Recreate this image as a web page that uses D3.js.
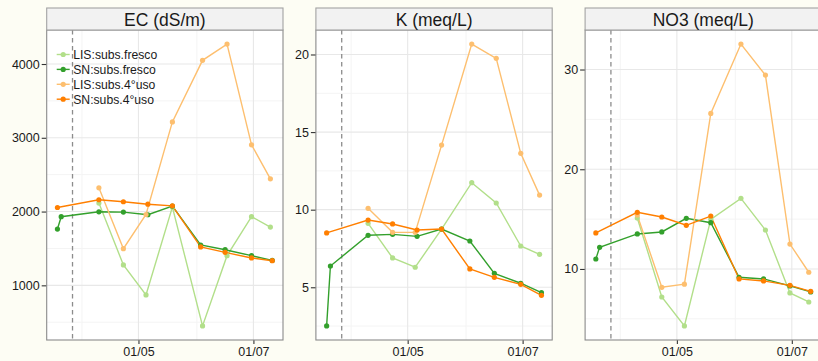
<!DOCTYPE html>
<html>
<head>
<meta charset="utf-8">
<script src="https://cdn.jsdelivr.net/npm/d3@7"></script>
<style>
  body { margin: 0; background: #fdfdf4; }
  text { font-family: "Liberation Sans", Arial, Helvetica, sans-serif; }
</style>
</head>
<body>
<div id="chart"></div>
<script>
// DATES (sample days)
const snFrescoDates = ["2014-03-19", "2014-03-21", "2014-04-10", "2014-04-23", "2014-05-06", "2014-05-19", "2014-06-03", "2014-06-16", "2014-06-30", "2014-07-11"];
const snUsoDates = ["2014-03-19", "2014-04-10", "2014-04-23", "2014-05-06", "2014-05-19", "2014-06-03", "2014-06-16", "2014-06-30", "2014-07-11"];
const lisDates = ["2014-04-10", "2014-04-23", "2014-05-05", "2014-05-19", "2014-06-04", "2014-06-17", "2014-06-30", "2014-07-10"];
const markerDate = "2014-03-27";

// SERIES
const seriesNames = ["LIS:subs.fresco", "SN:subs.fresco", "LIS:subs.4°uso", "SN:subs.4°uso"];
const seriesColors = ["#b2df8a", "#33a02c", "#fdbf6f", "#ff7f00"];

// PANELS
const panelTitles = ["EC (dS/m)", "K (meq/L)", "NO3 (meq/L)"];
const panelTicks = [[1000, 2000, 3000, 4000], [5, 10, 15, 20], [10, 20, 30]];

// EC values
const ecLisFresco = [2115, 1276, 870, 2060, 450, 1402, 1930, 1790];
const ecSnFresco = [1763, 1930, 1997, 1993, 1957, 2075, 1547, 1483, 1402, 1338];
const ecLisUso = [2322, 1497, 1960, 3215, 4050, 4270, 2904, 2444];
const ecSnUso = [2055, 2160, 2133, 2100, 2078, 1520, 1447, 1371, 1334];

// K values
const kLisFresco = [9.12, 6.89, 6.29, 8.75, 11.74, 10.43, 7.66, 7.12];
const kSnFresco = [2.51, 6.37, 8.35, 8.41, 8.28, 8.75, 7.98, 5.90, 5.26, 4.65];
const kLisUso = [10.09, 8.54, 8.54, 14.16, 20.67, 19.75, 13.63, 10.94];
const kSnUso = [8.50, 9.33, 9.08, 8.69, 8.75, 6.18, 5.64, 5.19, 4.48];

// NO3 values
const no3LisFresco = [15.11, 7.19, 4.29, 14.98, 17.08, 13.91, 7.6, 6.69];
const no3SnFresco = [11.0, 12.17, 13.51, 13.71, 15.08, 14.64, 9.17, 9.0, 8.30, 7.70];
const no3LisUso = [15.4, 8.16, 8.47, 25.6, 32.55, 29.44, 12.5, 9.67];
const no3SnUso = [13.61, 15.68, 15.21, 14.38, 15.31, 9.0, 8.80, 8.36, 7.76];

const parse = d3.timeParse("%Y-%m-%d");
const seriesDates = [lisDates, snFrescoDates, lisDates, snUsoDates];
const panelValues = [
  [ecLisFresco, ecSnFresco, ecLisUso, ecSnUso],
  [kLisFresco, kSnFresco, kLisUso, kSnUso],
  [no3LisFresco, no3SnFresco, no3LisUso, no3SnUso],
];

const width = 818;
const height = 361;
const panelLeft = 46.7;
const panelStep = 269.2;
const panelWidth = 236.3;
const stripTop = 8;
const plotTop = 30;
const plotBottom = 340;
const fontFam = '"Liberation Sans", Arial, Helvetica, sans-serif';

const svg = d3
  .create("svg")
  .attr("width", width)
  .attr("height", height)
  .attr("viewBox", `0 0 ${width} ${height}`);

svg.append("rect").attr("width", width).attr("height", height).attr("fill", "#fdfdf4");

// X SCALE (shared), ggplot-like 5% expansion
const allDates = [...snFrescoDates, ...snUsoDates, ...lisDates].map(parse);
const xExt = d3.extent(allDates);
const xPad = (xExt[1] - xExt[0]) * 0.05;
const xDomain = [new Date(+xExt[0] - xPad), new Date(+xExt[1] + xPad)];
const xMajor = [parse("2014-05-01"), parse("2014-07-01")];
const xMinor = [parse("2014-04-01"), parse("2014-06-01")];

panelTitles.forEach((title, p) => {
  const x0 = panelLeft + p * panelStep;
  const g = svg.append("g").attr("transform", `translate(${x0},0)`);

  const xScale = d3.scaleTime().domain(xDomain).range([0, panelWidth]);
  const vals = panelValues[p].flat();
  const yExt = d3.extent(vals);
  const yPad = (yExt[1] - yExt[0]) * 0.05;
  const yScale = d3
    .scaleLinear()
    .domain([yExt[0] - yPad, yExt[1] + yPad])
    .range([plotBottom, plotTop]);

  // panel background
  g.append("rect")
    .attr("x", 0).attr("y", plotTop)
    .attr("width", panelWidth).attr("height", plotBottom - plotTop)
    .attr("fill", "#ffffff");

  // minor grid
  const ticks = panelTicks[p];
  const step = ticks[1] - ticks[0];
  const yMinor = [ticks[0] - step / 2, ...ticks.map((t) => t + step / 2)].filter(
    (v) => v > yScale.domain()[0] && v < yScale.domain()[1]
  );
  g.selectAll(".yminor").data(yMinor).join("line")
    .attr("x1", 0).attr("x2", panelWidth)
    .attr("y1", (d) => yScale(d)).attr("y2", (d) => yScale(d))
    .attr("stroke", "#f4f4f4").attr("stroke-width", 1);
  g.selectAll(".xminor").data(xMinor).join("line")
    .attr("x1", (d) => xScale(d)).attr("x2", (d) => xScale(d))
    .attr("y1", plotTop).attr("y2", plotBottom)
    .attr("stroke", "#f4f4f4").attr("stroke-width", 1);

  // major grid
  g.selectAll(".ymajor").data(ticks).join("line")
    .attr("x1", 0).attr("x2", panelWidth)
    .attr("y1", (d) => yScale(d)).attr("y2", (d) => yScale(d))
    .attr("stroke", "#e8e8e8").attr("stroke-width", 1.1);
  g.selectAll(".xmajor").data(xMajor).join("line")
    .attr("x1", (d) => xScale(d)).attr("x2", (d) => xScale(d))
    .attr("y1", plotTop).attr("y2", plotBottom)
    .attr("stroke", "#e8e8e8").attr("stroke-width", 1.1);

  // dashed marker
  g.append("line")
    .attr("x1", xScale(parse(markerDate))).attr("x2", xScale(parse(markerDate)))
    .attr("y1", plotTop).attr("y2", plotBottom)
    .attr("stroke", "#8c8c8c").attr("stroke-width", 1.3)
    .attr("stroke-dasharray", "4.5,3.5");

  // series data
  const series = seriesNames.map((name, i) => ({
    name,
    color: seriesColors[i],
    points: seriesDates[i].map((d, j) => ({ date: parse(d), value: panelValues[p][i][j] })),
  }));

  const line = d3.line().x((d) => xScale(d.date)).y((d) => yScale(d.value));

  g.append("g").selectAll("path").data(series).join("path")
    .attr("d", (s) => line(s.points))
    .attr("fill", "none")
    .attr("stroke", (s) => s.color)
    .attr("stroke-width", 1.4);

  series.forEach((s) => {
    g.append("g").selectAll("circle").data(s.points).join("circle")
      .attr("cx", (d) => xScale(d.date))
      .attr("cy", (d) => yScale(d.value))
      .attr("r", 2.6)
      .attr("fill", s.color);
  });

  // AXES
  const yAxis = d3.axisLeft(yScale).tickValues(ticks).tickFormat(d3.format("d"))
    .tickSize(5).tickPadding(2);
  const yG = g.append("g").attr("font-family", fontFam).call(yAxis);
  yG.attr("font-family", fontFam);
  yG.select(".domain").remove();
  yG.selectAll(".tick line").attr("stroke", "#333").attr("stroke-width", 1.1);
  yG.selectAll(".tick text").attr("font-size", 12.5).attr("fill", "#1a1a1a");

  const xAxis = d3.axisBottom(xScale).tickValues(xMajor).tickFormat(d3.timeFormat("%d/%m"))
    .tickSize(4).tickPadding(3);
  const xG = g.append("g").attr("transform", `translate(0,${plotBottom})`).call(xAxis);
  xG.attr("font-family", fontFam);
  xG.select(".domain").remove();
  xG.selectAll(".tick line").attr("stroke", "#333").attr("stroke-width", 1.1);
  xG.selectAll(".tick text").attr("font-size", 12.5).attr("fill", "#1a1a1a");

  // panel border
  g.append("rect")
    .attr("x", 0).attr("y", plotTop)
    .attr("width", panelWidth).attr("height", plotBottom - plotTop)
    .attr("fill", "none").attr("stroke", "#8a8a8a").attr("stroke-width", 1.1);

  // STRIP
  g.append("rect")
    .attr("x", 0).attr("y", stripTop)
    .attr("width", panelWidth).attr("height", plotTop - stripTop)
    .attr("fill", "#f2f2f2").attr("stroke", "#a3a3a3").attr("stroke-width", 1.1);
  g.append("text")
    .attr("x", panelWidth / 2).attr("y", 26)
    .attr("text-anchor", "middle")
    .attr("font-size", 17.5).attr("fill", "#1a1a1a")
    .text(title);

  // LEGEND (first panel)
  if (p === 0) {
    const leg = g.append("g").attr("transform", "translate(10,54.5)");
    const rows = leg.selectAll("g").data(seriesNames).join("g")
      .attr("transform", (d, i) => `translate(0,${i * 14.9})`);
    rows.append("line").attr("x1", 0).attr("x2", 13).attr("y1", 0).attr("y2", 0)
      .attr("stroke", (d, i) => seriesColors[i]).attr("stroke-width", 1.4);
    rows.append("circle").attr("cx", 6.5).attr("cy", 0).attr("r", 2.6)
      .attr("fill", (d, i) => seriesColors[i]);
    rows.append("text").attr("x", 16.5).attr("y", 4.4)
      .attr("font-size", 12.2).attr("fill", "#1a1a1a")
      .text((d) => d);
  }
});

document.getElementById("chart").append(svg.node());
</script>
</body>
</html>
